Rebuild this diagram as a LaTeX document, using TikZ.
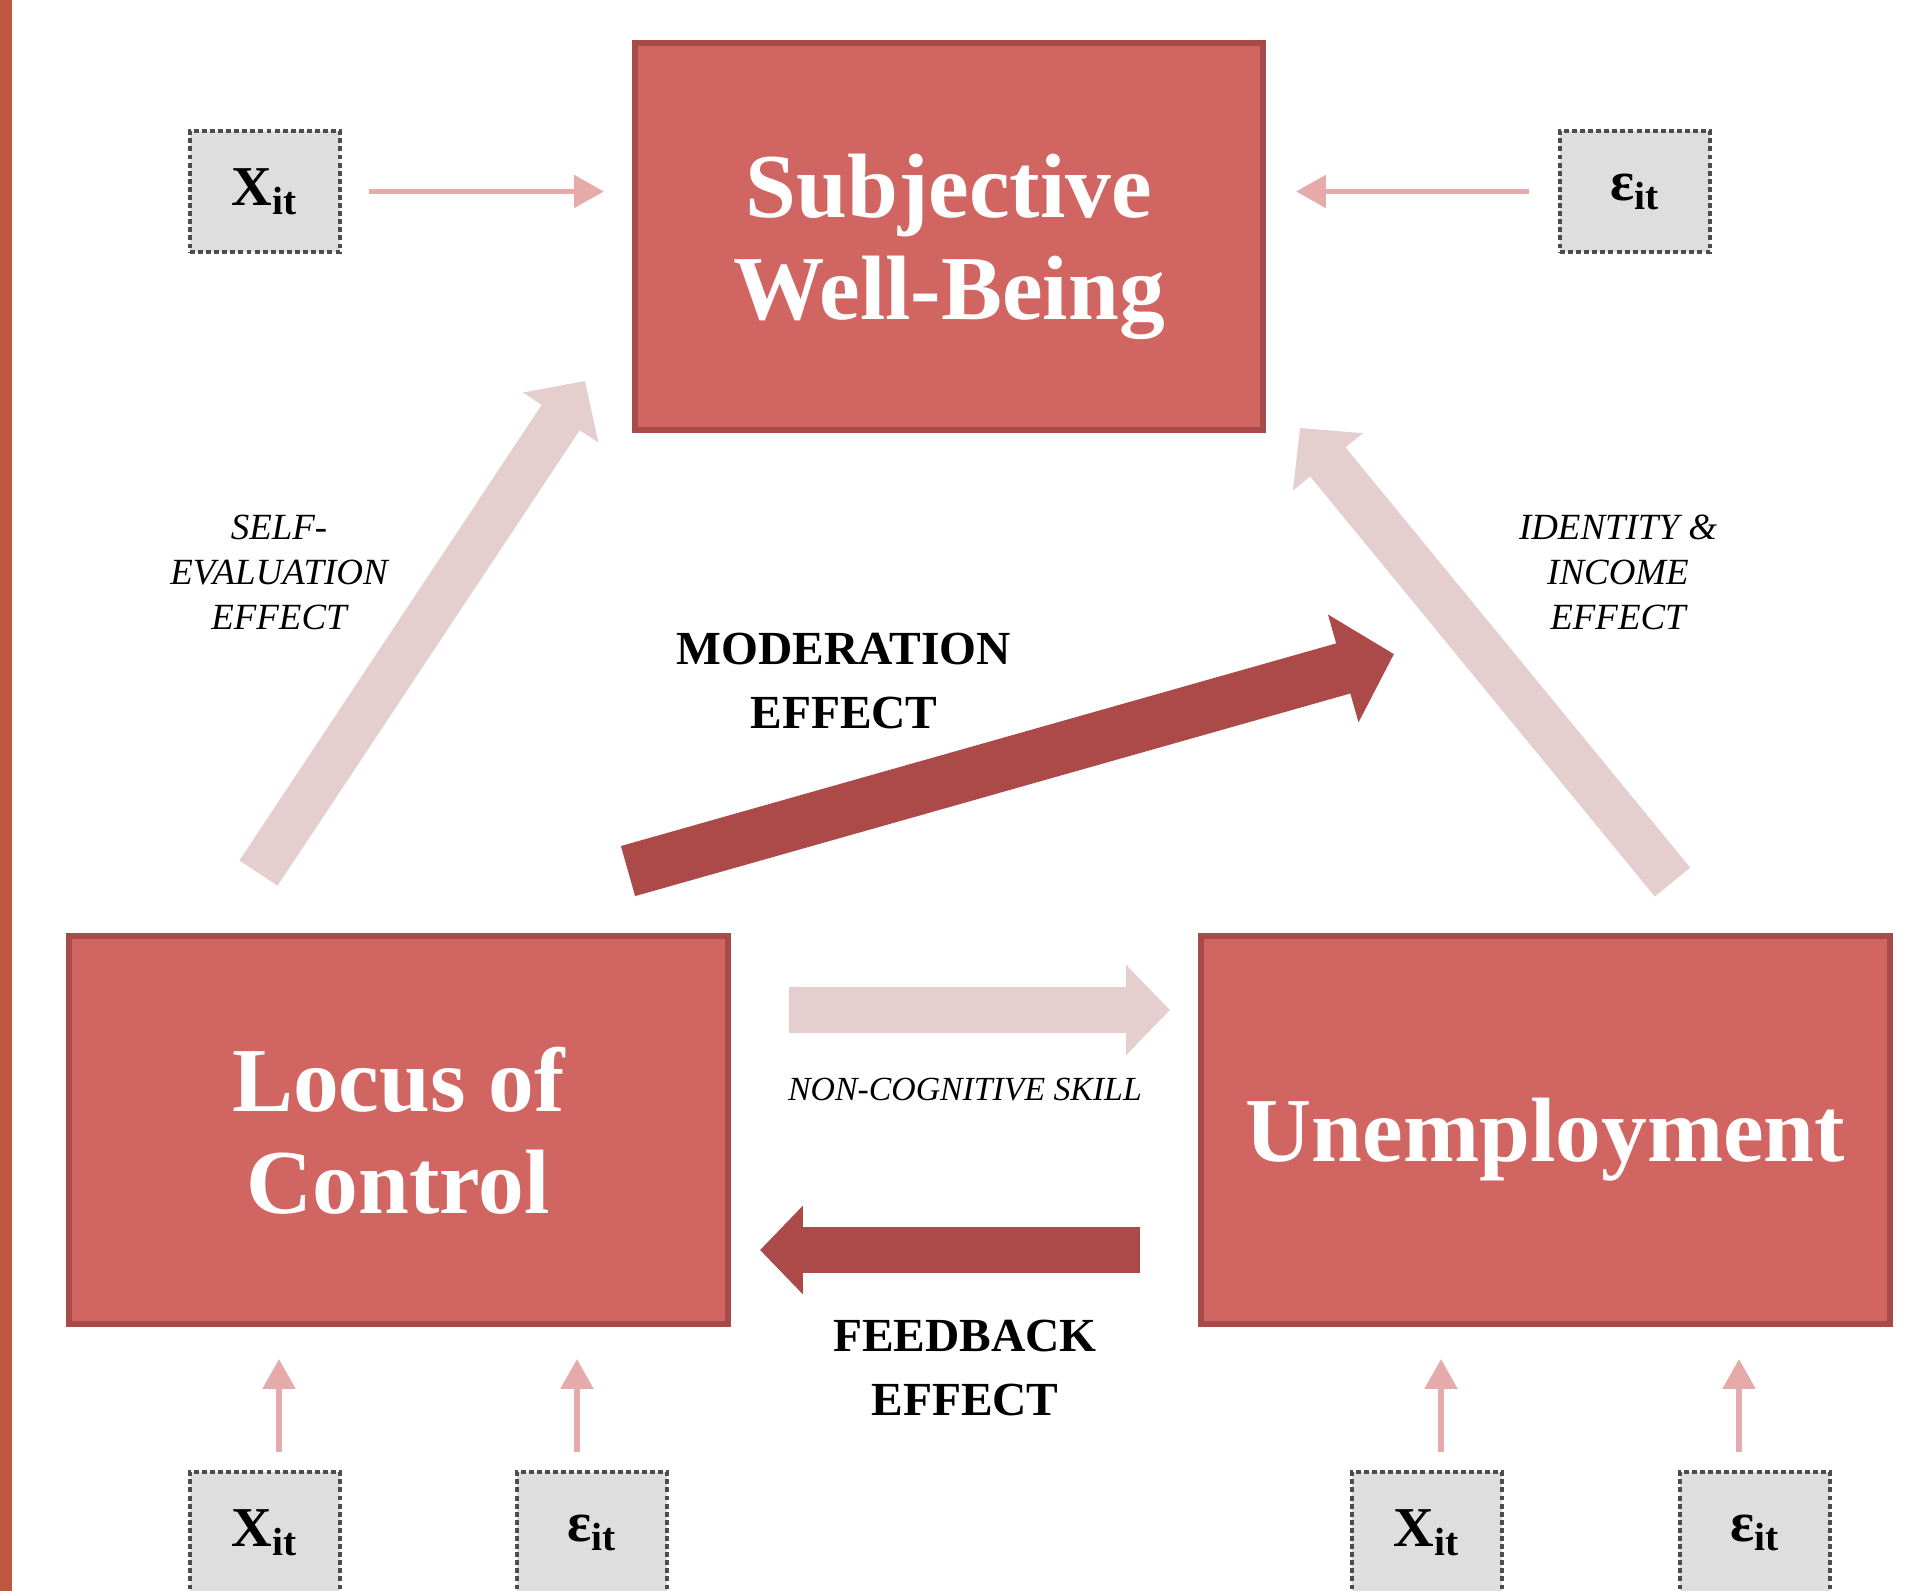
\documentclass[tikz,border=0pt]{standalone}
\usepackage{fontspec}
\setmainfont{Liberation Serif}
\usepackage{tikz}
\usetikzlibrary{arrows.meta,calc}

\definecolor{boxfill}{RGB}{208,101,98}
\definecolor{boxline}{RGB}{168,74,72}
\definecolor{darkarrow}{RGB}{171,74,72}
\definecolor{lightarrow}{RGB}{229,206,206}
\definecolor{thinarrow}{RGB}{231,170,170}
\definecolor{varfill}{RGB}{222,222,222}
\definecolor{stripe}{RGB}{192,87,64}

\begin{document}
\begin{tikzpicture}[x=0.01cm,y=-0.01cm,
  mainbox/.style={draw=boxline,line width=1.6pt,fill=boxfill,text=white,align=center,inner sep=0pt,
    text depth=0pt,font=\fontsize{26}{29}\selectfont\bfseries},
  varbox/.style={draw=black!70,dash pattern=on 1.4pt off 0.9pt,line width=0.9pt,fill=varfill,
    minimum width=1.5cm,minimum height=1.21cm,inner sep=0pt,font=\fontsize{16}{18}\selectfont\bfseries},
  thinarr/.style={draw=thinarrow,line width=1.7pt,-{Triangle[width=9pt,length=8.5pt]}},
  lightarr/.style={draw=lightarrow,line width=13pt,-{Triangle[width=25pt,length=12.5pt]}},
  darkarr/.style={draw=darkarrow,line width=12.8pt,-{Triangle[width=24.5pt,length=12.2pt]}},
  effectlabel/.style={align=center,inner sep=0pt,font=\fontsize{10.5}{12.8}\selectfont\itshape},
  boldlabel/.style={align=center,inner sep=0pt,font=\fontsize{13.5}{18}\selectfont\bfseries}]
\useasboundingbox (0,0) rectangle (1908,1591);
\fill[stripe] (0,0) rectangle (12,1591);

% the three constructs
\node[mainbox,minimum width=6.28cm,minimum height=3.87cm] (swb) at (949,236.5) {Subjective\\Well-Being};
\node[mainbox,minimum width=6.59cm,minimum height=3.88cm] (loc) at (398.5,1130) {Locus of\\Control};
\node[mainbox,minimum width=6.89cm,minimum height=3.88cm] (unemp) at (1545.5,1130) {Unemployment};

% controls and errors
\node[varbox] (xtop) at (265,191.5) {X\textsubscript{it}};
\node[varbox] (etop) at (1635,191.5) {ε\textsubscript{it}};
\node[varbox] (xl) at (265,1532.5) {X\textsubscript{it}};
\node[varbox] (el) at (592,1532.5) {ε\textsubscript{it}};
\node[varbox] (xr) at (1427,1532.5) {X\textsubscript{it}};
\node[varbox] (er) at (1755,1532.5) {ε\textsubscript{it}};

\draw[thinarr,shorten <=0.27cm,shorten >=0.28cm] (xtop.east) -- (xtop.east -| swb.west);
\draw[thinarr,shorten <=0.29cm,shorten >=0.30cm] (etop.west) -- (etop.west -| swb.east);
\draw[thinarr,shorten <=0.18cm,shorten >=0.32cm] ([xshift=0.14cm]xl.north) -- ([xshift=0.14cm]xl.north |- loc.south);
\draw[thinarr,shorten <=0.18cm,shorten >=0.32cm] ([xshift=-0.15cm]el.north) -- ([xshift=-0.15cm]el.north |- loc.south);
\draw[thinarr,shorten <=0.18cm,shorten >=0.32cm] ([xshift=0.14cm]xr.north) -- ([xshift=0.14cm]xr.north |- unemp.south);
\draw[thinarr,shorten <=0.18cm,shorten >=0.32cm] ([xshift=-0.16cm]er.north) -- ([xshift=-0.16cm]er.north |- unemp.south);

% effects
\draw[lightarr] ([shift={(-140,-60)}]loc.north) -- ([shift={(-47,-52)}]swb.south west);
\draw[lightarr] ([shift={(127,-51)}]unemp.north) -- ([shift={(34,-5)}]swb.south east);
\draw[lightarr] ([shift={(58,-120)}]loc.east) -- ([shift={(-28,-120)}]unemp.west);
\draw[darkarr] ([shift={(-58,120)}]unemp.west) -- ([shift={(29,120)}]loc.east);
\draw[darkarr,line width=14.8pt,-{Triangle[width=31pt,length=15pt]}] ([shift={(-103,-62)}]loc.north east) -- ([shift={(196,-279)}]unemp.north west);

\node[effectlabel] (selfeval) at (279,572) {SELF-\\EVALUATION\\EFFECT};
\node[effectlabel] (idinc) at (1618,572) {IDENTITY \&\\INCOME\\EFFECT};
\node[boldlabel] (moder) at (844,681) {MODERATION\\EFFECT};
\node[effectlabel,font=\fontsize{9.6}{11}\selectfont\itshape] (noncog) at (965,1090) {NON-COGNITIVE SKILL};
\node[boldlabel] (feedb) at (965,1368) {FEEDBACK\\EFFECT};
\end{tikzpicture}
\end{document}
